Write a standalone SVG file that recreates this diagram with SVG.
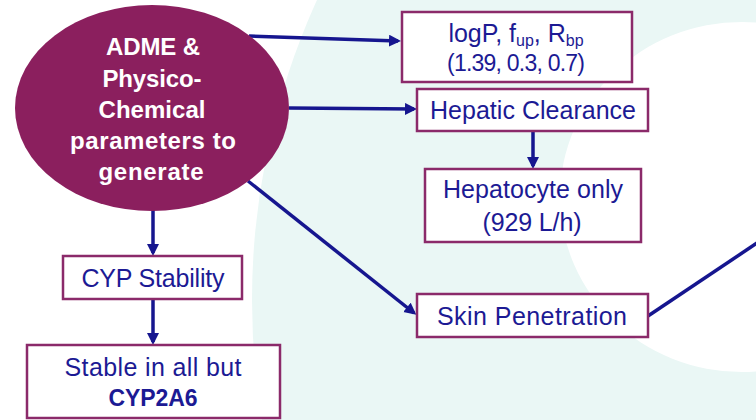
<svg xmlns="http://www.w3.org/2000/svg" width="756" height="420" viewBox="0 0 756 420">
  <style>
    .box { fill: #ffffff; stroke: #8b2a6a; stroke-width: 2.5; }
    .t { font-family: "Liberation Sans", Arial, sans-serif; font-size: 25px; fill: #1c1a94; text-anchor: middle; }
    .tb { font-weight: bold; }
    .et { font-family: "Liberation Sans", Arial, sans-serif; font-size: 24px; font-weight: bold; fill: #ffffff; text-anchor: middle; }
    .conn { stroke: #16168f; stroke-width: 3.5; fill: none; }
  </style>
  <defs>
    <marker id="ah" markerUnits="userSpaceOnUse" markerWidth="14" markerHeight="14" refX="9" refY="6" orient="auto">
      <path d="M0,0 L12,6 L0,12 z" fill="#16168f"/>
    </marker>
  </defs>

  <!-- background -->
  <rect x="0" y="0" width="756" height="420" fill="#ffffff"/>
  <circle cx="977" cy="300" r="725" fill="#eaf7f5"/>
  <ellipse cx="742" cy="197" rx="182" ry="175" fill="#ffffff"/>

  <!-- connectors -->
  <g id="connectors">
    <line class="conn" x1="249" y1="36" x2="398" y2="41" marker-end="url(#ah)"/>
    <line class="conn" x1="289" y1="108" x2="414" y2="109" marker-end="url(#ah)"/>
    <line class="conn" x1="533" y1="131" x2="533" y2="166" marker-end="url(#ah)"/>
    <line class="conn" x1="248" y1="181" x2="414" y2="313" marker-end="url(#ah)"/>
    <line class="conn" x1="648" y1="316" x2="760" y2="241"/>
    <line class="conn" x1="153" y1="210" x2="153" y2="253" marker-end="url(#ah)"/>
    <line class="conn" x1="153" y1="299" x2="153" y2="342" marker-end="url(#ah)"/>
  </g>

  <!-- central ellipse -->
  <g id="adme">
    <ellipse cx="152" cy="108" rx="137" ry="103" fill="#8b1f5e"/>
    <text class="et" x="153" y="55" textLength="94">ADME &amp;</text>
    <text class="et" x="152" y="87" textLength="99">Physico-</text>
    <text class="et" x="152" y="118" textLength="107">Chemical</text>
    <text class="et" x="153" y="149" textLength="166">parameters to</text>
    <text class="et" x="151" y="180" textLength="105">generate</text>
  </g>

  <g id="logp">
    <rect class="box" x="402" y="12" width="230" height="70"/>
    <text class="t" x="516" y="42">logP, f<tspan font-size="16" dy="4">up</tspan><tspan dy="-4">, R</tspan><tspan font-size="16" dy="4">bp</tspan></text>
    <text class="t" x="516" y="71" style="font-size:23px" textLength="138">(1.39, 0.3, 0.7)</text>
  </g>

  <g id="hepatic">
    <rect class="box" x="417" y="89" width="231" height="42"/>
    <text class="t" x="533" y="119" textLength="206">Hepatic Clearance</text>
  </g>

  <g id="hepatocyte">
    <rect class="box" x="425" y="169" width="216" height="73"/>
    <text class="t" x="533" y="198" textLength="180">Hepatocyte only</text>
    <text class="t" x="532" y="231" textLength="99">(929 L/h)</text>
  </g>

  <g id="skin">
    <rect class="box" x="417" y="294" width="231" height="43"/>
    <text class="t" x="532" y="325" textLength="190">Skin Penetration</text>
  </g>

  <g id="cyp">
    <rect class="box" x="63" y="256" width="179" height="43"/>
    <text class="t" x="153" y="287" textLength="143">CYP Stability</text>
  </g>

  <g id="stable">
    <rect class="box" x="27" y="345" width="253" height="73"/>
    <text class="t" x="153" y="376" textLength="177">Stable in all but</text>
    <text class="t tb" x="153" y="406" style="font-size:23px" textLength="89">CYP2A6</text>
  </g>
</svg>
